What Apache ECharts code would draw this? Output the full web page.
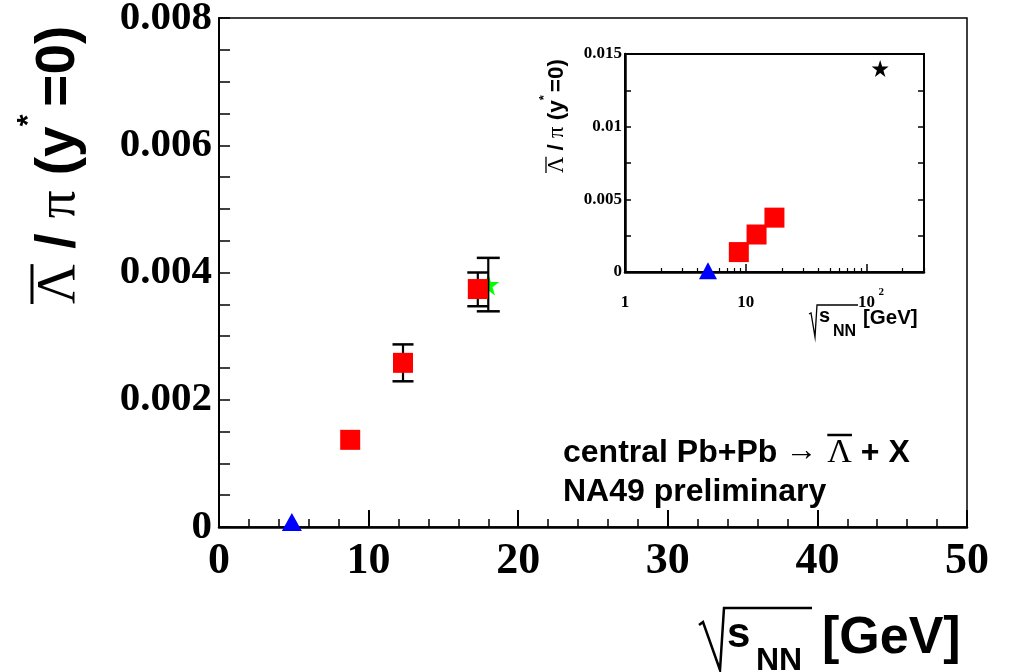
<!DOCTYPE html>
<html><head><meta charset="utf-8">
<script src="https://cdn.jsdelivr.net/npm/echarts@6/dist/echarts.min.js"></script>
<style>html,body{margin:0;padding:0;background:#fff}#c{width:1009px;height:672px}</style>
</head><body><div id="c"></div>
<script>
// ---------------- data ----------------
// NA49 (red squares): sqrt(s_NN) [GeV] and anti-Lambda/pi at y*=0
const naX = [8.77, 12.3, 17.3];
const naY = [0.00137, 0.00258, 0.00374];
// AGS point (blue triangle)
const agsX = [4.87];
const agsY = [0.00008];
// SPS other experiment (green star)
const spsX = [18.0];
const spsY = [0.00381];
// RHIC point (black star, inset only)
const rhicX = [130];
const rhicY = [0.0140];
// error bars (x, low, high)
const errX = [12.3, 17.3, 18.0];
const errLow = [0.00229, 0.00347, 0.00339];
const errHigh = [0.00287, 0.00400, 0.00423];
// tick values
const mainXTicks = [0, 10, 20, 30, 40, 50];
const mainYTicks = [0, 0.002, 0.004, 0.006, 0.008];
const insetXMajor = [10, 100];
const insetXMinor = [2,3,4,5,6,7,8,9,20,30,40,50,60,70,80,90,200,300];
const insetXLabels = [1, 10, 100];

// ---------------- helpers ----------------
const SERIF = '"Liberation Serif", "Times New Roman", serif';
const SANS = '"Liberation Sans", Arial, sans-serif';
const STAR = 'path://M50,2 L61.2,36.5 L97.6,36.5 L68.2,57.9 L79.4,92.5 L50,71.1 L20.6,92.5 L31.8,57.9 L2.4,36.5 L38.8,36.5 Z';
const mctx = document.createElement('canvas').getContext('2d');
function tw(t, size, fam, w) { mctx.font = w + ' ' + size + 'px ' + fam; return mctx.measureText(t).width; }
function txt(x, base, t, size, fam, w) {
  const k = fam === SERIF ? 0.338 : 0.346;
  return { type: 'text', x: x, y: base - k * size,
    style: { text: t, fontSize: size, fontFamily: fam, fontWeight: w, fill: '#000', align: 'left', verticalAlign: 'middle' } };
}
function yTitle(gx, gy, fs, sup, barY, supBase, gap, lw) {
  let x = 0; const ch = [];
  const add = (t, size, fam, w, base) => { ch.push(txt(x, base, t, size, fam, w)); x += tw(t, size, fam, w); };
  const lamW = tw('Λ', fs, SERIF, 'normal');
  add('Λ', fs, SERIF, 'normal', 0);
  ch.push({ type: 'line', shape: { x1: 0, y1: barY, x2: lamW, y2: barY }, style: { stroke: '#000', lineWidth: lw } });
  add(' / ', fs, SANS, 'bold', 0);
  add('π', fs, SERIF, 'normal', 0);
  add(' (y', fs, SANS, 'bold', 0);
  add('*', sup, SANS, 'bold', supBase);
  x += gap;
  add('=0)', fs, SANS, 'bold', 0);
  return { type: 'group', x: gx, y: gy, rotation: Math.PI / 2, children: ch };
}

const chart = echarts.init(document.getElementById('c'), null, { renderer: 'canvas', width: 1009, height: 672 });

const blk = '#000';
function errRender(params, api) {
  const x = api.value(0), lo = api.value(1), hi = api.value(2);
  const cw = params.dataIndex === 2 ? 23 : 21;
  const a = api.coord([x, lo]), b = api.coord([x, hi]);
  const st = { stroke: blk, lineWidth: 2.5 };
  return { type: 'group', children: [
    { type: 'line', shape: { x1: a[0], y1: a[1], x2: b[0], y2: b[1] }, style: { stroke: blk, lineWidth: 2.2 } },
    { type: 'line', shape: { x1: a[0] - cw / 2, y1: a[1], x2: a[0] + cw / 2, y2: a[1] }, style: st },
    { type: 'line', shape: { x1: b[0] - cw / 2, y1: b[1], x2: b[0] + cw / 2, y2: b[1] }, style: st }
  ] };
}
const zip = (xs, ys) => xs.map((v, i) => [v, ys[i]]);
const solid = c => ({ color: c, opacity: 1 });

const option = {
  animation: false,
  backgroundColor: '#fff',
  grid: [
    { left: 219, top: 18, width: 748, height: 509, show: true, borderColor: blk, borderWidth: 1.5, backgroundColor: 'transparent', containLabel: false, outerBoundsMode: 'none' },
    { left: 625, top: 54, width: 299, height: 218, show: true, borderColor: blk, borderWidth: 2, backgroundColor: '#fff', containLabel: false, outerBoundsMode: 'none', z: 5 }
  ],
  xAxis: [
    { gridIndex: 0, type: 'value', min: 0, max: 50, interval: 10,
      axisLine: { show: true, onZero: false, lineStyle: { color: blk, width: 2.5 } },
      axisTick: { show: true, inside: true, length: 17, lineStyle: { color: blk, width: 2 } },
      minorTick: { show: true, splitNumber: 5, length: 8, lineStyle: { color: blk, width: 1.5 } },
      splitLine: { show: false },
      axisLabel: { show: true, margin: 13, color: blk, fontFamily: SERIF, fontWeight: 'bold', fontSize: 44, showMinLabel: true, showMaxLabel: true,
        customValues: mainXTicks, formatter: v => String(v) } },
    { gridIndex: 1, type: 'log', logBase: 10, min: 1, max: 300, position: 'bottom', z: 6,
      axisLine: { show: true, onZero: false, lineStyle: { color: blk, width: 2.5 } },
      axisTick: { show: true, inside: true, length: 8, customValues: insetXMajor, lineStyle: { color: blk, width: 1.5 } },
      splitLine: { show: false },
      axisLabel: { show: true, margin: 22, color: blk, fontFamily: SERIF, fontWeight: 'bold', fontSize: 17,
        customValues: insetXLabels, formatter: v => String(Math.round(v) === 100 ? 10 : Math.round(v)) } },
    { gridIndex: 1, type: 'log', logBase: 10, min: 1, max: 300, position: 'bottom', z: 6,
      axisLine: { show: false },
      axisTick: { show: true, inside: true, length: 4, customValues: insetXMinor, lineStyle: { color: blk, width: 1.2 } },
      splitLine: { show: false },
      axisLabel: { show: false } }
  ],
  yAxis: [
    { gridIndex: 0, type: 'value', min: 0, max: 0.008, interval: 0.002,
      axisLine: { show: true, onZero: false, lineStyle: { color: blk, width: 2 } },
      axisTick: { show: true, inside: true, length: 11, lineStyle: { color: blk, width: 1.5 } },
      minorTick: { show: true, splitNumber: 4, length: 11, lineStyle: { color: blk, width: 1.5 } },
      splitLine: { show: false },
      axisLabel: { show: true, margin: 7, color: blk, fontFamily: SERIF, fontWeight: 'bold', fontSize: 41, showMinLabel: true, showMaxLabel: true,
        padding: [7, 0, 0, 0], customValues: mainYTicks, formatter: v => v === 0 ? '0' : v.toFixed(3) } },
    { gridIndex: 1, type: 'value', min: 0, max: 0.015, interval: 0.005, z: 6,
      axisLine: { show: true, onZero: false, lineStyle: { color: blk, width: 2.5 } },
      axisTick: { show: true, inside: true, length: 6, lineStyle: { color: blk, width: 1.5 } },
      minorTick: { show: true, splitNumber: 2, length: 6, lineStyle: { color: blk, width: 1.5 } },
      splitLine: { show: false },
      axisLabel: { show: true, margin: 3, color: blk, fontFamily: SERIF, fontWeight: 'bold', fontSize: 17,
        formatter: v => v === 0 ? '0' : String(+v.toFixed(4)) } },
    { gridIndex: 1, type: 'value', min: 0, max: 0.015, interval: 0.005, position: 'right', z: 6,
      axisLine: { show: false },
      axisTick: { show: true, inside: true, length: 6, lineStyle: { color: blk, width: 1.5 } },
      minorTick: { show: true, splitNumber: 2, length: 6, lineStyle: { color: blk, width: 1.5 } },
      splitLine: { show: false },
      axisLabel: { show: false } }
  ],
  series: [
    { type: 'scatter', name: 'sps', xAxisIndex: 0, yAxisIndex: 0, z: 2, symbol: STAR, symbolSize: 22,
      itemStyle: solid('#00ff00'), data: zip(spsX, spsY) },
    { type: 'custom', name: 'err', xAxisIndex: 0, yAxisIndex: 0, z: 3, renderItem: errRender,
      encode: { x: 0, y: [1, 2] }, data: errX.map((x, i) => [x, errLow[i], errHigh[i]]) },
    { type: 'scatter', name: 'na49', xAxisIndex: 0, yAxisIndex: 0, z: 4, symbol: 'rect', symbolSize: 20,
      itemStyle: solid('#ff0000'), data: zip(naX, naY) },
    { type: 'scatter', name: 'ags', xAxisIndex: 0, yAxisIndex: 0, z: 4, symbol: 'triangle', symbolSize: [20, 18],
      itemStyle: solid('#0000ff'), data: zip(agsX, agsY) },
    { type: 'scatter', name: 'na49i', xAxisIndex: 1, yAxisIndex: 1, z: 7, symbol: 'rect', symbolSize: 20,
      itemStyle: solid('#ff0000'), data: zip(naX, naY) },
    { type: 'scatter', name: 'agsi', xAxisIndex: 1, yAxisIndex: 1, z: 7, symbol: 'triangle', symbolSize: [18, 17],
      itemStyle: solid('#0000ff'), data: zip(agsX, agsY) },
    { type: 'scatter', name: 'rhic', xAxisIndex: 1, yAxisIndex: 1, z: 7, symbol: STAR, symbolSize: 17,
      itemStyle: solid('#000'), data: zip(rhicX, rhicY) }
  ]
};
chart.setOption(option);

// -------- text / titles --------
const g = [];
g.push(yTitle(78, 304, 55, 30, -46, -39, 8, 3));
g.push(yTitle(565, 173, 22.5, 13, -19, -16, 3, 1.3));

// main x title
g.push({ type: 'polyline', shape: { points: [[699, 625], [703, 622], [720, 670], [724, 608], [812, 608]] }, style: { stroke: blk, lineWidth: 2.5, fill: null } });
g.push(txt(727, 650, 's', 42, SANS, 'bold'));
g.push(txt(756, 672, 'NN', 32, SANS, 'bold'));
g.push(txt(822, 657, '[GeV]', 52, SANS, 'bold'));
// inset x title
g.push({ type: 'polyline', shape: { points: [[809, 314], [811, 313], [815, 337], [817, 305], [858, 305]] }, style: { stroke: blk, lineWidth: 1.3, fill: null } });
g.push(txt(819, 323, 's', 20, SANS, 'bold'));
g.push(txt(833, 337, 'NN', 16, SANS, 'bold'));
g.push(txt(863, 325, '[GeV]', 20.5, SANS, 'bold'));

// annotation
(function () {
  let ax = 563; const fs = 32;
  g.push(txt(ax, 464, 'central Pb+Pb', fs, SANS, 'bold')); ax += tw('central Pb+Pb', fs, SANS, 'bold');
  ax += 8; g.push(txt(ax, 462, '→', 32, SERIF, 'normal')); ax += tw('→', 32, SERIF, 'normal') + 10;
  const lw = tw('Λ', 34, SERIF, 'normal');
  g.push(txt(ax, 465, 'Λ', 34, SERIF, 'normal'));
  g.push({ type: 'line', shape: { x1: ax, y1: 435, x2: ax + lw, y2: 435 }, style: { stroke: blk, lineWidth: 2.5 } });
  ax += lw;
  g.push(txt(ax, 464, ' + X', fs, SANS, 'bold'));
  g.push(txt(563, 503, 'NA49 preliminary', fs, SANS, 'bold'));
})();

// superscript "2" of the 10^2 label on the inset log axis
const p100 = chart.convertToPixel({ xAxisIndex: 1 }, 100);
g.push(txt(p100 + 12, 296, '2', 11, SERIF, 'bold'));

chart.setOption({ graphic: g.map(e => Object.assign({ z: 20 }, e)) });
</script>
</body></html>
